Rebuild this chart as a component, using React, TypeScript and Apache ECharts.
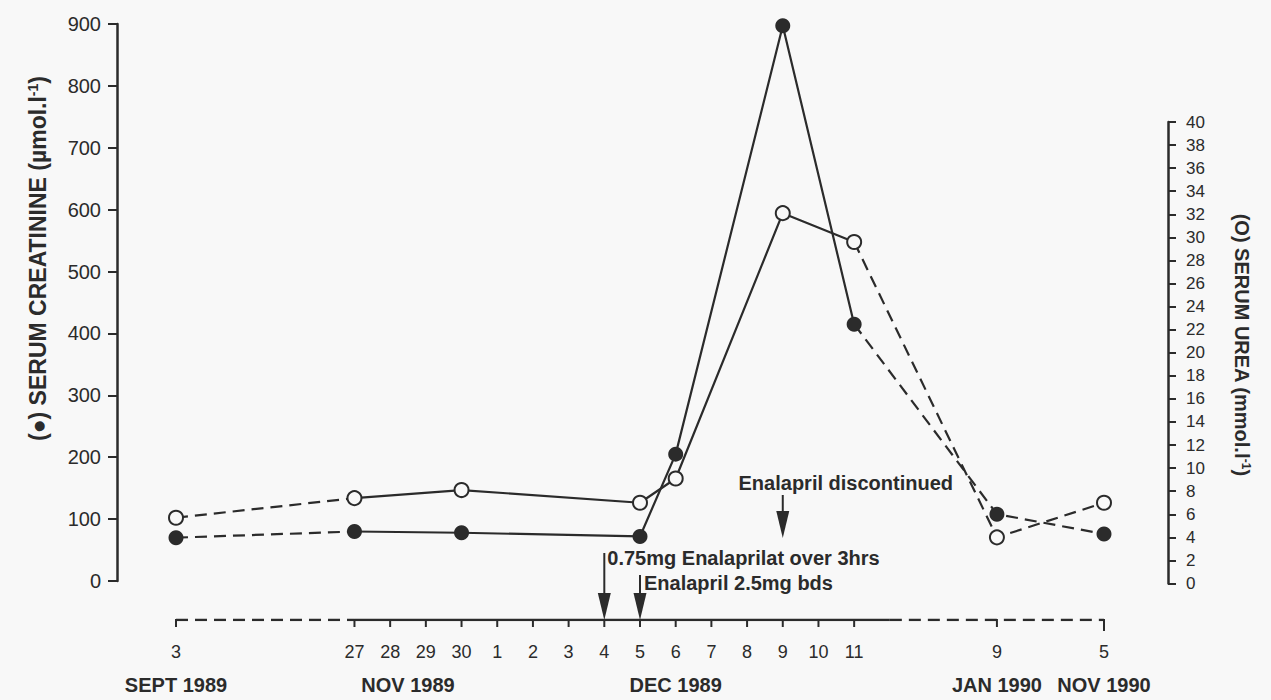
import React, { useEffect, useRef } from "react";
import * as echarts from "echarts";

// ---- data ----
// Broken time axis: one slot per day around the December episode, gaps elsewhere.
const dayLabels = [
  "3", "", "", "", "", "27", "28", "29", "30", "1", "2", "3", "4", "5", "6",
  "7", "8", "9", "10", "11", "", "", "", "9", "", "", "5",
];
const monthNames = ["SEPT 1989", "NOV 1989", "DEC 1989", "JAN 1990", "NOV 1990"];
const monthHalfSlots = [0, 13, 28, 46, 52];

const sampleDates = [
  "3 Sept 1989", "27 Nov 1989", "30 Nov 1989", "5 Dec 1989", "6 Dec 1989",
  "9 Dec 1989", "11 Dec 1989", "9 Jan 1990", "5 Nov 1990",
];
const sampleSlots = [0, 5, 8, 13, 14, 17, 19, 23, 26];
const creatinine = [70, 80, 78, 72, 205, 897, 415, 108, 76]; // µmol/l
const urea = [5.7, 7.4, 8.1, 7.0, 9.1, 32.1, 29.6, 4.0, 7.0]; // mmol/l
const solidFrom = 1; // sample index where the solid (daily) stretch begins
const solidTo = 6; // sample index where it ends

const axisSolidSpan = [4.5, 19.5];
const axisEnds = [0, 26];

const annotationSlots = [12, 13, 17];
const annotationTexts = [
  "0.75mg Enalaprilat over 3hrs",
  "Enalapril 2.5mg bds",
  "Enalapril discontinued",
];

export default function App() {
  const ref = useRef<HTMLDivElement>(null);
  useEffect(() => {
    document.body.style.margin = "0";
    const chart = echarts.init(ref.current!, null, { renderer: "svg" });
    const ink = "#2b2b2b";
    const bg = "#f8f8f8";
    const font = "'Liberation Sans', Arial, Helvetica, sans-serif";
    const L = 176;
    const R = 1271 - 1104;

    const monthCats: string[] = [];
    for (let i = 0; i <= 52; i++) monthCats.push("");
    monthHalfSlots.forEach((s, i) => (monthCats[s] = monthNames[i]));

    const tickSlots: number[] = [];
    dayLabels.forEach((d, i) => {
      if (d !== "") tickSlots.push(i);
    });

    const seg = (vals: number[], a: number, b: number) =>
      sampleSlots.slice(a, b + 1).map((s, i) => [s, vals[a + i]]);
    const pieces: [number, number, boolean][] = [
      [0, solidFrom, true],
      [solidFrom, solidTo, false],
      [solidTo, sampleSlots.length - 1, true],
    ];
    const lineSeries = (name: string, vals: number[], xi: number, yi: number) =>
      pieces.map(([a, b, dashed]) => ({
        type: "line",
        name,
        xAxisIndex: xi,
        yAxisIndex: yi,
        data: seg(vals, a, b),
        symbol: "none",
        silent: true,
        z: 2,
        lineStyle: { color: ink, width: 2.2, type: dashed ? [12, 7] : "solid" },
      }));

    const annotationLayout = [
      { top: -67, tip: 0, dx: 3, dy: -62, align: "left" },
      { top: -45, tip: 0, dx: 4, dy: -37, align: "left" },
      { top: -125, tip: -82, dx: 63, dy: -137, align: "center" },
    ];

    const option: any = {
      animation: false,
      backgroundColor: bg,
      textStyle: { fontFamily: font, color: ink },
      grid: [
        { left: L, right: R, top: 24, height: 557 },
        { left: L, right: R, top: 122, height: 461.5 },
        { left: L, right: R, top: 600, height: 20 },
      ],
      xAxis: [
        { type: "category", gridIndex: 0, data: dayLabels, boundaryGap: false, show: false },
        { type: "category", gridIndex: 1, data: dayLabels, boundaryGap: false, show: false },
        {
          type: "category",
          gridIndex: 2,
          data: dayLabels,
          boundaryGap: false,
          position: "bottom",
          axisLine: { show: false },
          axisTick: { show: false },
          axisLabel: {
            interval: (_i: number, v: string) => v !== "",
            margin: 23,
            fontSize: 18,
            color: ink,
            fontFamily: font,
          },
          splitLine: { show: false },
        },
        {
          type: "category",
          gridIndex: 2,
          data: monthCats,
          boundaryGap: false,
          position: "bottom",
          axisLine: { show: false },
          axisTick: { show: false },
          axisLabel: {
            interval: (_i: number, v: string) => v !== "",
            margin: 55,
            fontSize: 20,
            fontWeight: "bold",
            color: ink,
            fontFamily: font,
          },
          splitLine: { show: false },
        },
      ],
      yAxis: [
        {
          type: "value",
          gridIndex: 0,
          min: 0,
          max: 900,
          interval: 100,
          position: "left",
          offset: L - 117,
          axisLine: { show: true, lineStyle: { color: ink, width: 2.5 } },
          axisTick: { show: true, length: 9, lineStyle: { color: ink, width: 2 } },
          axisLabel: { margin: 16, fontSize: 20, color: ink, fontFamily: font },
          splitLine: { show: false },
          name: "{t|(●) SERUM CREATININE (µmol.l}{s|-1}{t|)}",
          nameLocation: "middle",
          nameGap: 68,
          nameTextStyle: {
            padding: [0, 0, 0, 88],
            rich: {
              t: { fontSize: 23, fontWeight: "bold", fontFamily: font, color: ink },
              s: { fontSize: 14, fontWeight: "bold", fontFamily: font, color: ink, verticalAlign: "top" },
            },
          },
        },
        {
          type: "value",
          gridIndex: 1,
          min: 0,
          max: 40,
          interval: 2,
          position: "right",
          offset: 1168 - (1271 - R),
          axisLine: { show: true, lineStyle: { color: ink, width: 2.5 } },
          axisTick: { show: true, length: 8, lineStyle: { color: ink, width: 2 } },
          axisLabel: { margin: 18, fontSize: 17, color: ink, fontFamily: font },
          splitLine: { show: false },
          name: "{t|(O) SERUM UREA (mmol.l}{s|-1}{t|)}",
          nameLocation: "middle",
          nameRotate: -90,
          nameGap: 64,
          nameTextStyle: {
            padding: [0, 16, 0, 0],
            rich: {
              t: { fontSize: 20, fontWeight: "bold", fontFamily: font, color: ink },
              s: { fontSize: 12, fontWeight: "bold", fontFamily: font, color: ink, verticalAlign: "top" },
            },
          },
        },
        { type: "value", gridIndex: 2, min: 0, max: 1, show: false },
      ],
      series: [
        // broken time axis line: dashed where time is compressed, solid over daily span
        {
          type: "line",
          xAxisIndex: 2,
          yAxisIndex: 2,
          data: [[axisEnds[0], 0], [axisSolidSpan[0], 0]],
          symbol: "none",
          silent: true,
          lineStyle: { color: ink, width: 2.5, type: [12, 7] },
        },
        {
          type: "line",
          xAxisIndex: 2,
          yAxisIndex: 2,
          data: [[axisSolidSpan[0], 0], [axisSolidSpan[1], 0]],
          symbol: "none",
          silent: true,
          lineStyle: { color: ink, width: 2.5 },
        },
        {
          type: "line",
          xAxisIndex: 2,
          yAxisIndex: 2,
          data: [[axisSolidSpan[1], 0], [axisEnds[1], 0]],
          symbol: "none",
          silent: true,
          lineStyle: { color: ink, width: 2.5, type: [12, 7] },
        },
        // tick marks of the broken time axis
        {
          type: "custom",
          xAxisIndex: 2,
          yAxisIndex: 2,
          z: 3,
          silent: true,
          data: tickSlots.map((s) => [s, 0]),
          renderItem: (params: any, api: any) => {
            const p = api.coord([api.value(0), 0]);
            const last = params.dataIndex === tickSlots.length - 1;
            return {
              type: "line",
              shape: { x1: p[0], y1: p[1] - 1, x2: p[0], y2: p[1] + (last ? 11 : 7) },
              style: { stroke: ink, lineWidth: 2 },
            };
          },
        },
        ...lineSeries("Serum creatinine", creatinine, 0, 0),
        ...lineSeries("Serum urea", urea, 1, 1),
        {
          type: "scatter",
          name: "Serum urea",
          xAxisIndex: 1,
          yAxisIndex: 1,
          data: seg(urea, 0, sampleSlots.length - 1),
          symbol: "circle",
          symbolSize: 14,
          z: 4,
          itemStyle: { color: bg, borderColor: ink, borderWidth: 2, opacity: 1 },
        },
        {
          type: "scatter",
          name: "Serum creatinine",
          xAxisIndex: 0,
          yAxisIndex: 0,
          data: seg(creatinine, 0, sampleSlots.length - 1),
          symbol: "circle",
          symbolSize: 15,
          z: 5,
          itemStyle: { color: ink, opacity: 1 },
        },
        {
          type: "custom",
          xAxisIndex: 2,
          yAxisIndex: 2,
          z: 6,
          silent: true,
          data: annotationSlots.map((s) => [s, 0]),
          renderItem: (params: any, api: any) => {
            const i = params.dataIndex;
            const p = api.coord([api.value(0), 0]);
            const x = p[0];
            const y = p[1];
            const lay = annotationLayout[i];
            const tip = y + lay.tip;
            return {
              type: "group",
              children: [
                {
                  type: "line",
                  shape: { x1: x, y1: y + lay.top, x2: x, y2: tip - 12 },
                  style: { stroke: ink, lineWidth: 2 },
                },
                {
                  type: "polygon",
                  shape: { points: [[x - 6.5, tip - 27], [x + 6.5, tip - 27], [x, tip]] },
                  style: { fill: ink },
                },
                {
                  type: "text",
                  x: x + lay.dx,
                  y: y + lay.dy,
                  style: {
                    text: annotationTexts[i],
                    fontSize: 20,
                    fontWeight: "bold",
                    fontFamily: font,
                    fill: ink,
                    align: lay.align,
                    verticalAlign: "middle",
                  },
                },
              ],
            };
          },
        },
      ],
    };
    chart.setOption(option);
    return () => chart.dispose();
  }, []);
  return <div ref={ref} style={{ width: 1271, height: 700 }} />;
}
